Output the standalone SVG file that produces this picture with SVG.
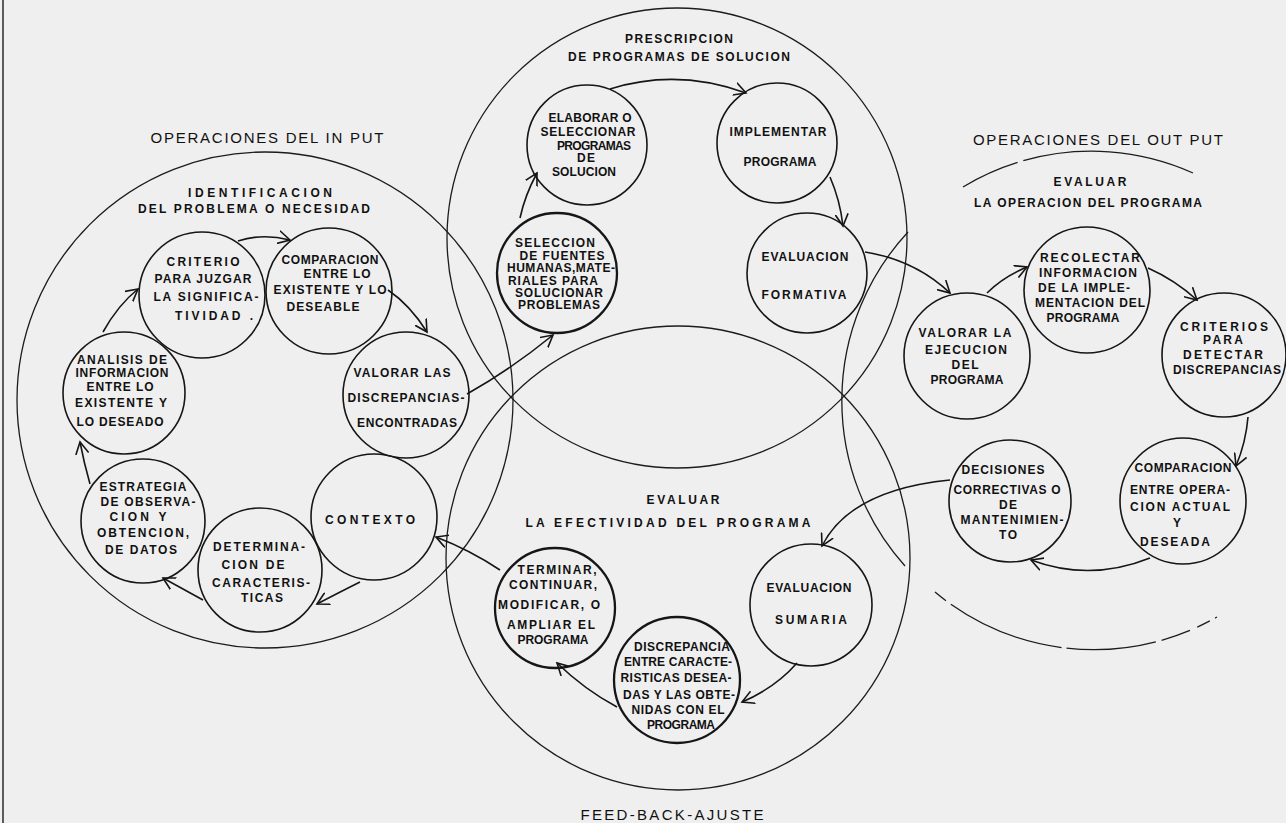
<svg xmlns="http://www.w3.org/2000/svg" width="1286" height="823" viewBox="0 0 1286 823">
  <defs>
    <marker id="v" viewBox="0 0 14 14" refX="12" refY="7" markerWidth="14" markerHeight="14" markerUnits="userSpaceOnUse" orient="auto">
      <path d="M0,0.5 L12,7 L0,13.5" fill="none" stroke="#151515" stroke-width="1.6"/>
    </marker>
  </defs>
  <style>
    .bg { fill: #efefef; }
    .big { fill: none; stroke: #1c1c1c; stroke-width: 1.3; }
    .node { fill: none; stroke: #161616; stroke-width: 1.6; }
    .thick { stroke-width: 2.3; }
    .arrow { fill: none; stroke: #151515; stroke-width: 1.6; marker-end: url(#v); }
    text { font-family: "Liberation Sans", Arial, sans-serif; fill: #111; text-anchor: middle; }
    .n { font-size: 12px; font-weight: bold; }
    .t { font-size: 12px; font-weight: bold; }
    .h { font-size: 15px; font-weight: normal; }
  </style>

  <rect class="bg" x="0" y="0" width="1286" height="823"/>
  <!-- page edge -->
  <line x1="3" y1="0" x2="3" y2="823" stroke="#2a2a2a" stroke-width="1.5"/>

  <!-- large stage circles -->
  <g id="stages">
    <circle id="stage-input" class="big" cx="265" cy="400" r="248"/>
    <circle id="stage-prescripcion" class="big" cx="677" cy="238" r="230"/>
    <circle id="stage-efectividad" class="big" cx="678" cy="558" r="232"/>
    <g id="stage-output">
      <path class="big" d="M963,187 A248,248 0 0 1 1193,173" stroke-dasharray="60 6 200 4"/>
      <path class="big" d="M908,232 A248,248 0 0 0 905,566"/>
      <path class="big" d="M935,592 A248,248 0 0 0 1217,617" stroke-dasharray="14 6 120 5 90 6 30 8"/>
    </g>
  </g>

  <!-- stage headings -->
  <g id="headings">
    <text class="h" x="267" y="143" textLength="233" lengthAdjust="spacing">OPERACIONES DEL IN PUT</text>
    <text class="t" x="260" y="197" textLength="144" lengthAdjust="spacing">IDENTIFICACION</text>
    <text class="t" x="254" y="213" textLength="232" lengthAdjust="spacing">DEL PROBLEMA O NECESIDAD</text>
    <text class="t" x="679" y="43" textLength="108" lengthAdjust="spacing">PRESCRIPCION</text>
    <text class="t" x="679" y="61" textLength="222" lengthAdjust="spacing">DE PROGRAMAS DE SOLUCION</text>
    <text class="h" x="1098" y="145" textLength="250" lengthAdjust="spacing">OPERACIONES DEL OUT PUT</text>
    <text class="t" x="1090" y="186" textLength="73" lengthAdjust="spacing">EVALUAR</text>
    <text class="t" x="1088" y="207" textLength="228" lengthAdjust="spacing">LA OPERACION DEL PROGRAMA</text>
    <text class="t" x="683" y="504" textLength="73" lengthAdjust="spacing">EVALUAR</text>
    <text class="t" x="668" y="527" textLength="285" lengthAdjust="spacing">LA EFECTIVIDAD DEL PROGRAMA</text>
    <text class="h" x="672" y="820" font-size="14" textLength="183" lengthAdjust="spacing">FEED-BACK-AJUSTE</text>
  </g>

  <!-- input operations -->
  <g id="criterio">
    <circle class="node" cx="202" cy="295" r="63"/>
    <text class="n" x="203" y="266" textLength="73" lengthAdjust="spacing">CRITERIO</text>
    <text class="n" x="203" y="283" textLength="97" lengthAdjust="spacing">PARA JUZGAR</text>
    <text class="n" x="206" y="301" textLength="105" lengthAdjust="spacing">LA SIGNIFICA-</text>
    <text class="n" x="214" y="320" textLength="78" lengthAdjust="spacing">TIVIDAD  .</text>
  </g>
  <g id="comparacion-existente">
    <circle class="node" cx="329" cy="291" r="63"/>
    <text class="n" x="330" y="264" textLength="97" lengthAdjust="spacing">COMPARACION</text>
    <text class="n" x="337" y="278" textLength="67" lengthAdjust="spacing">ENTRE LO</text>
    <text class="n" x="330" y="294" textLength="113" lengthAdjust="spacing">EXISTENTE Y LO</text>
    <text class="n" x="323" y="311" textLength="73" lengthAdjust="spacing">DESEABLE</text>
  </g>
  <g id="valorar-discrepancias">
    <circle class="node" cx="406" cy="395" r="63"/>
    <text class="n" x="402" y="377" textLength="97" lengthAdjust="spacing">VALORAR LAS</text>
    <text class="n" x="406" y="402" textLength="117" lengthAdjust="spacing">DISCREPANCIAS-</text>
    <text class="n" x="407" y="427" textLength="100" lengthAdjust="spacing">ENCONTRADAS</text>
  </g>
  <g id="contexto">
    <circle class="node" cx="374" cy="517" r="63"/>
    <text class="n" x="370" y="524" textLength="90" lengthAdjust="spacing">CONTEXTO</text>
  </g>
  <g id="determinacion">
    <circle class="node" cx="260" cy="570" r="62"/>
    <text class="n" x="259" y="551" textLength="92" lengthAdjust="spacing">DETERMINA-</text>
    <text class="n" x="253" y="569" textLength="63" lengthAdjust="spacing">CION DE</text>
    <text class="n" x="261" y="587" textLength="98" lengthAdjust="spacing">CARACTERIS-</text>
    <text class="n" x="262" y="602" textLength="42" lengthAdjust="spacing">TICAS</text>
  </g>
  <g id="estrategia">
    <circle class="node" cx="143" cy="521" r="62"/>
    <text class="n" x="143" y="491" textLength="87" lengthAdjust="spacing">ESTRATEGIA</text>
    <text class="n" x="148" y="506" textLength="95" lengthAdjust="spacing">DE OBSERVA-</text>
    <text class="n" x="138" y="521" textLength="57" lengthAdjust="spacing">CION Y</text>
    <text class="n" x="143" y="537" textLength="92" lengthAdjust="spacing">OBTENCION,</text>
    <text class="n" x="141" y="554" textLength="72" lengthAdjust="spacing">DE DATOS</text>
  </g>
  <g id="analisis">
    <circle class="node" cx="124" cy="393" r="61"/>
    <text class="n" x="122" y="364" textLength="90" lengthAdjust="spacing">ANALISIS DE</text>
    <text class="n" x="122" y="377" textLength="93" lengthAdjust="spacing">INFORMACION</text>
    <text class="n" x="120" y="391" textLength="67" lengthAdjust="spacing">ENTRE LO</text>
    <text class="n" x="121" y="407" textLength="92" lengthAdjust="spacing">EXISTENTE Y</text>
    <text class="n" x="120" y="426" textLength="87" lengthAdjust="spacing">LO DESEADO</text>
  </g>

  <!-- program prescription -->
  <g id="elaborar">
    <circle class="node" cx="587" cy="145" r="60"/>
    <text class="n" x="590" y="122" textLength="83" lengthAdjust="spacing">ELABORAR O</text>
    <text class="n" x="588" y="136" textLength="95" lengthAdjust="spacing">SELECCIONAR</text>
    <text class="n" x="594" y="150" textLength="74" lengthAdjust="spacing">PROGRAMAS</text>
    <text class="n" x="586" y="162" textLength="18" lengthAdjust="spacing">DE</text>
    <text class="n" x="584" y="176" textLength="64" lengthAdjust="spacing">SOLUCION</text>
  </g>
  <g id="implementar">
    <circle class="node" cx="777" cy="143" r="60"/>
    <text class="n" x="778" y="136" textLength="97" lengthAdjust="spacing">IMPLEMENTAR</text>
    <text class="n" x="780" y="166" textLength="73" lengthAdjust="spacing">PROGRAMA</text>
  </g>
  <g id="evaluacion-formativa">
    <circle class="node" cx="807" cy="273" r="60"/>
    <text class="n" x="805" y="261" textLength="87" lengthAdjust="spacing">EVALUACION</text>
    <text class="n" x="804" y="299" textLength="85" lengthAdjust="spacing">FORMATIVA</text>
  </g>
  <g id="seleccion-fuentes">
    <circle class="node thick" cx="557" cy="273" r="60"/>
    <text class="n" x="555" y="247" textLength="80" lengthAdjust="spacing">SELECCION</text>
    <text class="n" x="562" y="260" textLength="85" lengthAdjust="spacing">DE FUENTES</text>
    <text class="n" x="561" y="272" textLength="108" lengthAdjust="spacing">HUMANAS,MATE-</text>
    <text class="n" x="553" y="285" textLength="90" lengthAdjust="spacing">RIALES PARA</text>
    <text class="n" x="559" y="297" textLength="88" lengthAdjust="spacing">SOLUCIONAR</text>
    <text class="n" x="559" y="309" textLength="82" lengthAdjust="spacing">PROBLEMAS</text>
  </g>

  <!-- program effectiveness -->
  <g id="terminar">
    <circle class="node thick" cx="555" cy="608" r="60"/>
    <text class="n" x="557" y="574" textLength="79" lengthAdjust="spacing">TERMINAR,</text>
    <text class="n" x="553" y="589" textLength="88" lengthAdjust="spacing">CONTINUAR,</text>
    <text class="n" x="549" y="609" textLength="102" lengthAdjust="spacing">MODIFICAR, O</text>
    <text class="n" x="551" y="629" textLength="88" lengthAdjust="spacing">AMPLIAR EL</text>
    <text class="n" x="553" y="644" textLength="71" lengthAdjust="spacing">PROGRAMA</text>
  </g>
  <g id="discrepancia">
    <circle class="node thick" cx="677" cy="680" r="63"/>
    <text class="n" x="682" y="651" textLength="96" lengthAdjust="spacing">DISCREPANCIA</text>
    <text class="n" x="678" y="666" textLength="108" lengthAdjust="spacing">ENTRE CARACTE-</text>
    <text class="n" x="676" y="682" textLength="111" lengthAdjust="spacing">RISTICAS DESEA-</text>
    <text class="n" x="679" y="699" textLength="112" lengthAdjust="spacing">DAS Y LAS OBTE-</text>
    <text class="n" x="678" y="714" textLength="93" lengthAdjust="spacing">NIDAS CON EL</text>
    <text class="n" x="681" y="729" textLength="68" lengthAdjust="spacing">PROGRAMA</text>
  </g>
  <g id="evaluacion-sumaria">
    <circle class="node" cx="811" cy="605" r="61"/>
    <text class="n" x="809" y="592" textLength="85" lengthAdjust="spacing">EVALUACION</text>
    <text class="n" x="811" y="624" textLength="72" lengthAdjust="spacing">SUMARIA</text>
  </g>

  <!-- output operations -->
  <g id="valorar-ejecucion">
    <circle class="node" cx="967" cy="356" r="63"/>
    <text class="n" x="965" y="337" textLength="93" lengthAdjust="spacing">VALORAR LA</text>
    <text class="n" x="966" y="354" textLength="82" lengthAdjust="spacing">EJECUCION</text>
    <text class="n" x="965" y="369" textLength="27" lengthAdjust="spacing">DEL</text>
    <text class="n" x="967" y="384" textLength="73" lengthAdjust="spacing">PROGRAMA</text>
  </g>
  <g id="recolectar">
    <circle class="node" cx="1087" cy="290" r="63"/>
    <text class="n" x="1090" y="262" textLength="100" lengthAdjust="spacing">RECOLECTAR</text>
    <text class="n" x="1088" y="277" textLength="98" lengthAdjust="spacing">INFORMACION</text>
    <text class="n" x="1084" y="292" textLength="92" lengthAdjust="spacing">DE LA IMPLE-</text>
    <text class="n" x="1090" y="307" textLength="110" lengthAdjust="spacing">MENTACION DEL</text>
    <text class="n" x="1083" y="322" textLength="73" lengthAdjust="spacing">PROGRAMA</text>
  </g>
  <g id="criterios-detectar">
    <circle class="node" cx="1224" cy="355" r="62"/>
    <text class="n" x="1224" y="331" textLength="88" lengthAdjust="spacing">CRITERIOS</text>
    <text class="n" x="1223" y="344" textLength="40" lengthAdjust="spacing">PARA</text>
    <text class="n" x="1223" y="359" textLength="80" lengthAdjust="spacing">DETECTAR</text>
    <text class="n" x="1227" y="374" textLength="108" lengthAdjust="spacing">DISCREPANCIAS</text>
  </g>
  <g id="comparacion-operacion">
    <circle class="node" cx="1183" cy="501" r="63"/>
    <text class="n" x="1183" y="472" textLength="97" lengthAdjust="spacing">COMPARACION</text>
    <text class="n" x="1180" y="494" textLength="100" lengthAdjust="spacing">ENTRE OPERA-</text>
    <text class="n" x="1180" y="511" textLength="100" lengthAdjust="spacing">CION ACTUAL</text>
    <text class="n" x="1177" y="527">Y</text>
    <text class="n" x="1175" y="546" textLength="70" lengthAdjust="spacing">DESEADA</text>
  </g>
  <g id="decisiones">
    <circle class="node" cx="1010" cy="501" r="61"/>
    <text class="n" x="1003" y="474" textLength="83" lengthAdjust="spacing">DECISIONES</text>
    <text class="n" x="1007" y="494" textLength="107" lengthAdjust="spacing">CORRECTIVAS O</text>
    <text class="n" x="1008" y="509" textLength="18" lengthAdjust="spacing">DE</text>
    <text class="n" x="1012" y="524" textLength="103" lengthAdjust="spacing">MANTENIMIEN-</text>
    <text class="n" x="1008" y="539" textLength="18" lengthAdjust="spacing">TO</text>
  </g>

  <!-- flow connectors -->
  <g id="connectors">
    <path class="arrow" d="M103,332 Q118,305 138,289"/>
    <path class="arrow" d="M238,241 Q262,233 290,240"/>
    <path class="arrow" d="M388,290 Q410,305 427,332"/>
    <path class="arrow" d="M467,394 Q510,370 553,335"/>
    <path class="arrow" d="M500,570 Q470,550 436,537"/>
    <path class="arrow" d="M360,582 Q340,592 317,604"/>
    <path class="arrow" d="M203,600 Q185,590 163,578"/>
    <path class="arrow" d="M90,484 Q84,463 80,442"/>

    <path class="arrow" d="M520,218 Q525,195 537,173"/>
    <path class="arrow" d="M610,89 Q677,68 746,93"/>
    <path class="arrow" d="M830,177 Q840,200 843,226"/>
    <path class="arrow" d="M865,252 Q915,260 950,293"/>

    <path class="arrow" d="M987,293 Q1003,277 1027,267"/>
    <path class="arrow" d="M1148,268 Q1175,280 1197,300"/>
    <path class="arrow" d="M1248,417 Q1246,442 1236,466"/>
    <path class="arrow" d="M1150,558 Q1090,582 1031,560"/>
    <path class="arrow" d="M950,480 Q850,490 822,546"/>

    <path class="arrow" d="M797,663 Q775,688 742,702"/>
    <path class="arrow" d="M617,707 Q585,690 557,663"/>
  </g>
</svg>
